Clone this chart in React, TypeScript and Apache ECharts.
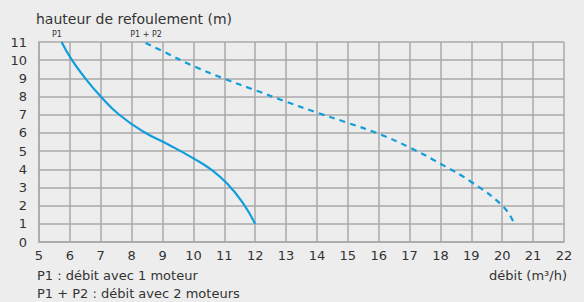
import React, { useEffect, useRef } from "react";
import * as echarts from "echarts";

const xTicks = [5, 6, 7, 8, 9, 10, 11, 12, 13, 14, 15, 16, 17, 18, 19, 20, 21, 22];
const yTicks = [0, 1, 2, 3, 4, 5, 6, 7, 8, 9, 10, 11];

const p1Flow = [5.73, 6.07, 6.5, 7.0, 7.6, 8.4, 9.2, 10.0, 10.6, 11.1, 11.6, 12.0];
const p1Head = [11, 10, 9, 8, 7, 6.05, 5.35, 4.6, 3.95, 3.2, 2.15, 1.0];

const p12Flow = [8.45, 9, 10, 11, 12, 13, 14, 15, 16, 17, 18, 19, 20, 20.35];
const p12Head = [10.95, 10.5, 9.68, 8.98, 8.35, 7.72, 7.12, 6.55, 5.95, 5.2, 4.3, 3.3, 2.0, 1.15];

const yTitle = "hauteur de refoulement (m)";
const xTitle = "débit (m³/h)";
const legend1 = "P1 : débit avec 1 moteur";
const legend2 = "P1 + P2 : débit avec 2 moteurs";
const tag1 = "P1";
const tag2 = "P1 + P2";

const FONT = "'DejaVu Sans', sans-serif";
const TEXT = "#333333";
const GRID = "#a8a8a8";
const BLUE = "#129ddc";

export default function App() {
  const ref = useRef<HTMLDivElement>(null);
  useEffect(() => {
    if (!ref.current) return;
    const chart = echarts.init(ref.current, null, { renderer: "svg" });
    const pts = (xs: number[], ys: number[]) => xs.map((x, i) => [x, ys[i]]);
    chart.setOption({
      animation: false,
      backgroundColor: "#ededed",
      grid: { left: 39, right: 20, top: 42, bottom: 60 },
      xAxis: {
        type: "value",
        min: xTicks[0],
        max: xTicks[xTicks.length - 1],
        interval: 1,
        axisLine: { show: true, lineStyle: { color: GRID, width: 1.5 } },
        axisTick: { show: false },
        splitLine: { show: true, lineStyle: { color: GRID, width: 1.5 } },
        axisLabel: { color: TEXT, fontFamily: FONT, fontSize: 13, margin: 7 },
      },
      yAxis: {
        type: "value",
        min: yTicks[0],
        max: yTicks[yTicks.length - 1],
        interval: 1,
        axisLine: { show: true, lineStyle: { color: GRID, width: 1.5 } },
        axisTick: { show: false },
        splitLine: { show: true, lineStyle: { color: GRID, width: 1.5 } },
        axisLabel: { color: TEXT, fontFamily: FONT, fontSize: 13, margin: 12 },
      },
      series: [
        {
          type: "line",
          data: pts(p1Flow, p1Head),
          smooth: 0.5,
          showSymbol: false,
          lineStyle: { color: BLUE, width: 2.2 },
        },
        {
          type: "line",
          data: pts(p12Flow, p12Head),
          smooth: 0.5,
          showSymbol: false,
          lineStyle: { color: BLUE, width: 2.2, type: [6, 5] },
        },
      ],
      graphic: [
        { type: "text", left: 36, top: 12, style: { text: yTitle, fill: TEXT, font: `14px ${FONT}` } },
        { type: "text", x: 57, y: 34, style: { text: tag1, fill: TEXT, font: `8px ${FONT}`, align: "center", verticalAlign: "middle" } },
        { type: "text", x: 146, y: 34, style: { text: tag2, fill: TEXT, font: `8px ${FONT}`, align: "center", verticalAlign: "middle" } },
        { type: "text", x: 37, y: 275, style: { text: legend1, fill: TEXT, font: `13px ${FONT}`, verticalAlign: "middle" } },
        { type: "text", x: 37, y: 293, style: { text: legend2, fill: TEXT, font: `13px ${FONT}`, verticalAlign: "middle" } },
        { type: "text", x: 567, y: 275, style: { text: xTitle, fill: TEXT, font: `13px ${FONT}`, align: "right", verticalAlign: "middle" } },
      ],
    });
    return () => chart.dispose();
  }, []);
  return <div ref={ref} style={{ width: 584, height: 302, position: "absolute", left: 0, top: 0 }} />;
}
